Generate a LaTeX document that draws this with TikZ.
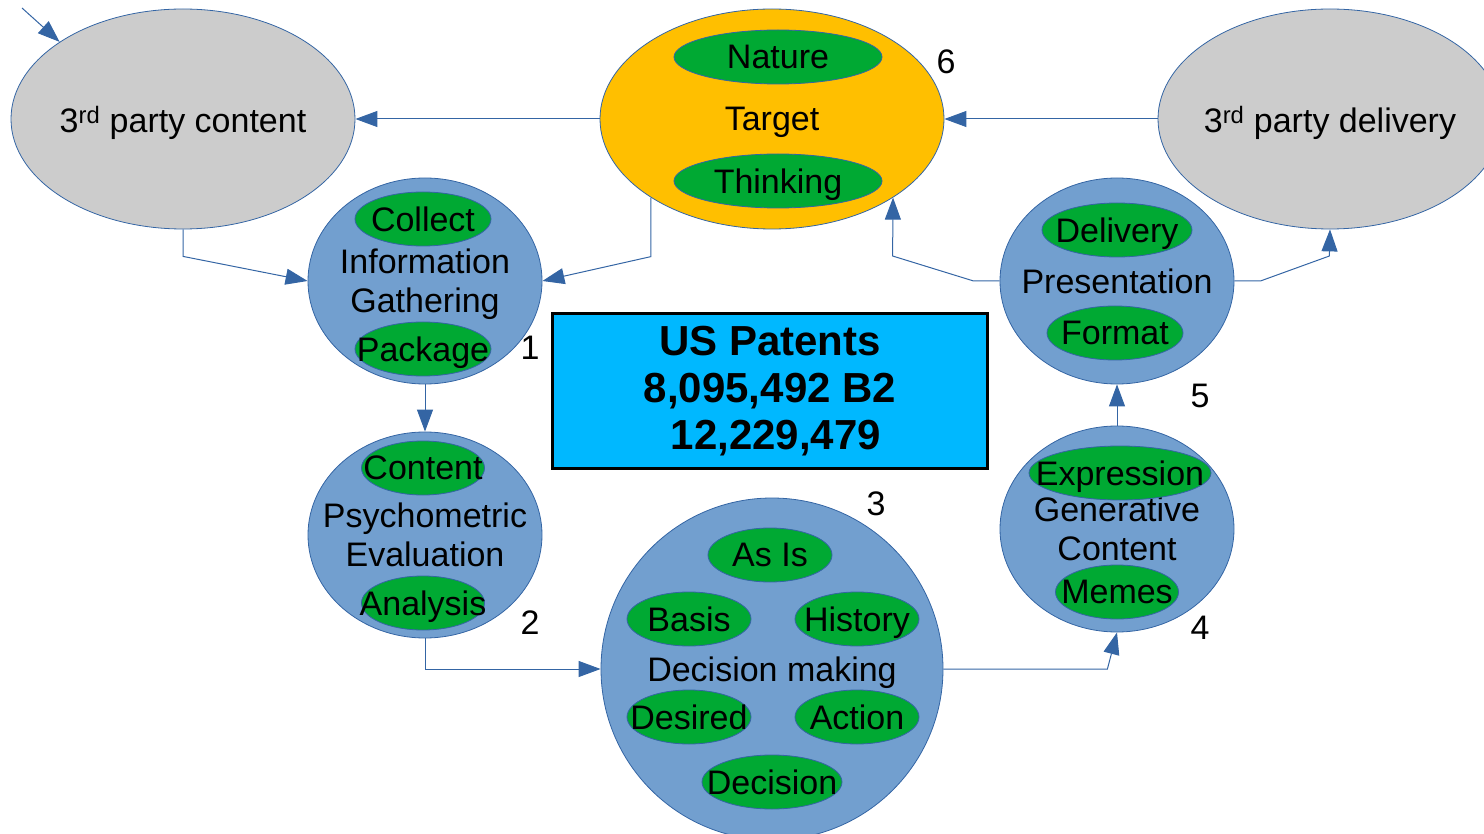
\documentclass[tikz,border=0pt]{standalone}
\usepackage{fontspec}
\setmainfont{Liberation Sans}
\usetikzlibrary{shapes.geometric,arrows.meta}
\definecolor{lineblue}{HTML}{3465A4}
\definecolor{fillblue}{HTML}{729FCF}
\definecolor{pillgreen}{HTML}{00A933}
\definecolor{targetgold}{HTML}{FFBF00}
\definecolor{partygray}{HTML}{CCCCCC}
\definecolor{boxcyan}{RGB}{0,184,255}
\tikzset{
  blob/.style={ellipse, draw=lineblue, fill=fillblue, line width=0.8pt, minimum width=234pt, minimum height=206pt, inner sep=0pt},
  party/.style={ellipse, draw=lineblue, fill=partygray, line width=0.8pt, minimum width=344pt, minimum height=220pt, inner sep=0pt},
  pill/.style={ellipse, draw=lineblue, fill=pillgreen, line width=0.8pt, minimum width=#1, minimum height=54pt, inner sep=0pt},
  txt/.style={font=\fontsize{34}{39}\selectfont, align=center, inner sep=0pt, text depth=0pt},
  conn/.style={draw=lineblue, line width=1pt, -{Triangle[length=22pt,width=16pt]}},
}
\begin{document}
\begin{tikzpicture}[x=1pt, y=-1pt]
                    \useasboundingbox (0,0) rectangle (1484,834);

                    \node[party, label={[txt]center:3\textsuperscript{rd} party content}] (tpc) at (183,119) {};
                    \node[party, label={[txt]center:3\textsuperscript{rd} party delivery}] (pdel) at (1330,119) {};
                    \node[party, fill=targetgold, label={[txt]center:Target}] (tgt) at (772,119) {};

                    \node[blob, label={[txt]center:Information\\Gathering}] (info) at (425,281) {};
                    \node[blob, label={[txt]center:Psychometric\\Evaluation}] (psy) at (425,535) {};
                    \node[blob, minimum width=342pt, minimum height=342pt, label={[txt]center:Decision making}] (dec) at (772,669) {};
                    \node[blob, label={[txt]center:Generative\\Content}] (gen) at (1117,529) {};
                    \node[blob, label={[txt]center:Presentation}] (pres) at (1117,281) {};

                    \foreach \nm/\x/\y/\w/\t in {nat/778/57/208/Nature, thk/778/181/208/Thinking,
                        col/423/219/136/Collect, pkg/423/349/136/Package,
                        cnt/423/468/123/Content, ana/423/603/123/Analysis,
                        asis/770/555/124/As Is, bas/689/619/124/Basis, his/857/619/124/History,
                        des/689/717/124/Desired, act/857/717/124/Action, dcs/772/782/140/Decision,
                        exp/1120/473/182/Expression, mem/1117/592/123/Memes,
                        dlv/1117/230/150/Delivery, fmt/1115/333/136/Format} {
                        \node[pill=\w pt, label={[txt]center:\t}] (\nm) at (\x,\y) {};
                    }

                    \node[draw=black, line width=3pt, fill=boxcyan, minimum width=435pt, minimum height=155pt,
                          font=\bfseries\fontsize{42}{47}\selectfont, align=center] (pat) at (770,391)
                          {US Patents\\8,095,492 B2\\\ 12,229,479};

                    \node[txt] (n1) at (530,348) {1};
                    \node[txt] (n2) at (530,623) {2};
                    \node[txt] (n3) at (876,504) {3};
                    \node[txt] (n4) at (1200,628) {4};
                    \node[txt] (n5) at (1200,396) {5};
                    \node[txt] (n6) at (946,62) {6};

                    \coordinate (feed) at (22,8);
                    \draw[conn] (feed) -- (tpc.148);
                    \draw[conn] (tgt) -- (tpc);
                    \draw[conn] (pdel) -- (tgt);
                    \draw[conn] (tpc.south) -- ++(0,27) -- (info.west);
                    \draw[conn] (tgt.213) -- ++(0,59) -- (info.east);
                    \draw[conn] (info) -- (psy);
                    \draw[conn] (psy.south) |- (dec.west);
                    \draw[conn] (dec.east) -- ++(164,0) -- (gen.south);
                    \draw[conn] (gen) -- (pres);
                    \draw[conn] (pres.west) -- ++(-26,0) -- ++(-81,-25) -- (tgt.327);
                    \draw[conn] (pres.east) -- ++(26,0) -- ++(69,-25) -- (pdel.south);
                \end{tikzpicture}
\end{document}
